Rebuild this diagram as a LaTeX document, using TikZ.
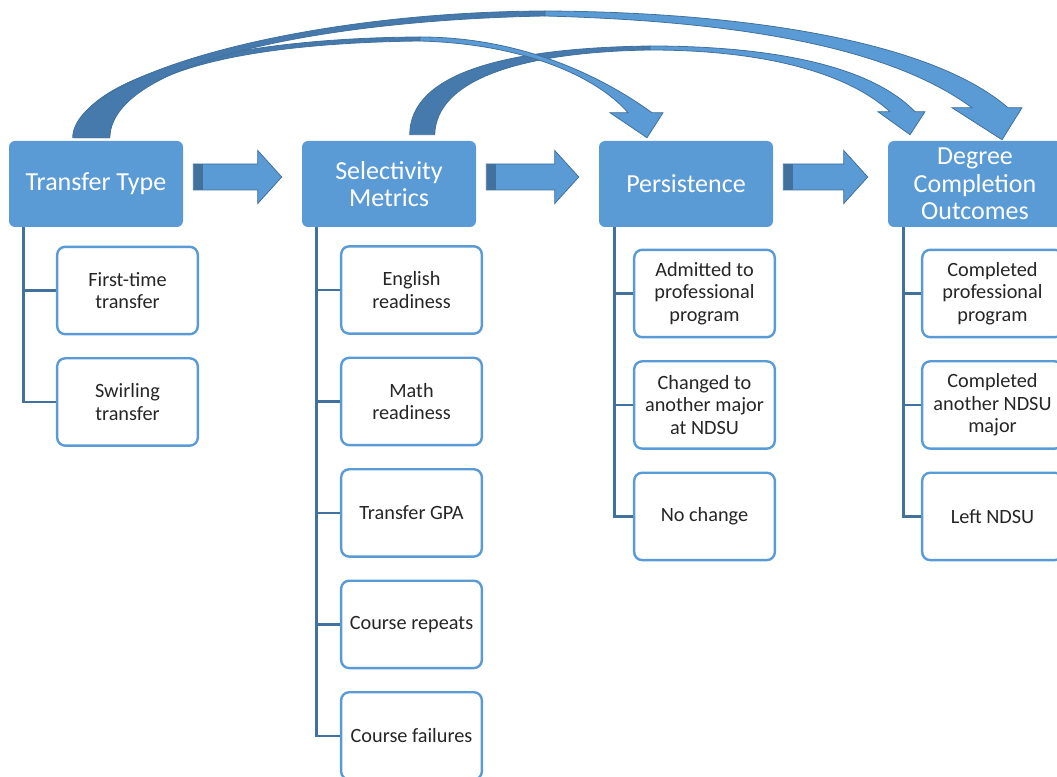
\documentclass[tikz,border=0pt]{standalone}
\usepackage{fontspec}
\setmainfont{Carlito}
\usepackage{tikz}
\usetikzlibrary{positioning,calc}
\definecolor{headblue}{RGB}{91,155,213}
\definecolor{linedark}{RGB}{65,113,156}
\definecolor{arcdark}{RGB}{70,122,173}
\tikzstyle{head}=[rectangle,rounded corners=4.5pt,fill=headblue,text=white,inner sep=1pt,
minimum width=130.5pt,minimum height=64.5pt,align=center,font=\fontsize{19.5}{20.6}\selectfont]
\tikzstyle{leaf}=[rectangle,rounded corners=6pt,draw=headblue,line width=1.8pt,fill=white,inner sep=2pt,
minimum width=105.5pt,minimum height=65.5pt,align=center,text=black!85,font=\fontsize{15.2}{16.9}\selectfont]
\tikzstyle{tie}=[draw=linedark,line width=1.9pt]
\tikzstyle{flow}=[fill=headblue,draw=linedark,line width=0.6pt]
\tikzstyle{flowback}=[fill=arcdark,draw=linedark,line width=0.6pt]
% block arrow from one head to the next
\newcommand{\flowarrow}[2]{%
  \coordinate (fs) at ($(#1.east)+(10,7)$);
  \coordinate (fe) at ($(#2.west)+(-20,7)$);
  \draw[flow] ($(fs)+(0,13)$) -- ($(fe)+(-24,13)$) -- ($(fe)+(-24,26.5)$) -- (fe)
    -- ($(fe)+(-24,-26.5)$) -- ($(fe)+(-24,-13)$) -- ($(fs)+(0,-13)$) -- cycle;
  \fill[linedark] ($(fs)+(0.4,12.6)$) rectangle ($(fs)+(10,-12.6)$);
}
\begin{document}
\begin{tikzpicture}[x=0.75pt,y=0.75pt,node distance=16.3pt]
            \clip (0,0) rectangle (1057,776);

            % HEADS

            \node[head] (tt) at (96,592) {Transfer Type};
            \node[head] (sm) at (389,592) {Selectivity\\Metrics};
            \node[head] (pe) at (686,592) {Persistence};
            \node[head] (dc) at (975,592) {Degree\\Completion\\Outcomes};

            \flowarrow{tt}{sm}
            \flowarrow{sm}{pe}
            \flowarrow{pe}{dc}

            % TRANSFER TYPE PART

            \node[leaf] (tt1) at (127.5,485.5) {First-time\\transfer};
            \node[leaf,below=of tt1] (tt2) {Swirling\\transfer};

            \draw[tie] ($(tt.south west)+(15,0)$) |- (tt1.west);
            \draw[tie] ($(tt.south west)+(15,0)$) |- (tt2.west);

            % SELECTIVITY PART

            \node[leaf] (sm1) at (411.5,486) {English\\readiness};
            \node[leaf,below=of sm1] (sm2) {Math\\readiness};
            \node[leaf,below=of sm2] (sm3) {Transfer GPA};
            \node[leaf,below=of sm3] (sm4) {Course repeats};
            \node[leaf,below=of sm4] (sm5) {Course failures};

            \draw[tie] ($(sm.south west)+(15,0)$) |- (sm1.west);
            \draw[tie] ($(sm.south west)+(15,0)$) |- (sm2.west);
            \draw[tie] ($(sm.south west)+(15,0)$) |- (sm3.west);
            \draw[tie] ($(sm.south west)+(15,0)$) |- (sm4.west);
            \draw[tie] ($(sm.south west)+(15,0)$) |- (sm5.west);

            % PERSISTENCE PART

            \node[leaf] (pe1) at (704.5,482.5) {Admitted to\\professional\\program};
            \node[leaf,below=of pe1] (pe2) {Changed to\\another major\\at NDSU};
            \node[leaf,below=of pe2] (pe3) {No change};

            \draw[tie] ($(pe.south west)+(15.5,0)$) |- (pe1.west);
            \draw[tie] ($(pe.south west)+(15.5,0)$) |- (pe2.west);
            \draw[tie] ($(pe.south west)+(15.5,0)$) |- (pe3.west);

            % DEGREE COMPLETION PART

            \node[leaf] (dc1) at (992.5,482.5) {Completed\\professional\\program};
            \node[leaf,below=of dc1] (dc2) {Completed\\another NDSU\\major};
            \node[leaf,below=of dc2] (dc3) {Left NDSU};

            \draw[tie] ($(dc.south west)+(16,0)$) |- (dc1.west);
            \draw[tie] ($(dc.south west)+(16,0)$) |- (dc2.west);
            \draw[tie] ($(dc.south west)+(16,0)$) |- (dc3.west);

            % Curved arrows over the heads

            \coordinate (ttA) at ($(tt.north west)+(64,3)$);
            \coordinate (ttC) at ($(tt.north west)+(66,3)$);
            \coordinate (ttB) at ($(tt.north west)+(101,3)$);
            \coordinate (smA) at ($(sm.north west)+(108,6)$);
            \coordinate (smB) at ($(sm.north west)+(133,6)$);
            \coordinate (tipA) at ($(pe.north)+(-39,3)$);
            \coordinate (tipB) at ($(dc.north)+(27,1)$);
            \coordinate (tipC) at ($(dc.north)+(-65,6)$);

            % selectivity -> degree
            \draw[flowback] (smA) .. controls (410,701) and (500,728) .. (650,730) -- (650,726)
                .. controls (520,724) and (436,696) .. (smB) -- cycle;
            \draw[flow] (650,730) .. controls (770,730) and (870,711) .. ($(tipC)+(5,23)$)
                -- ($(tipC)+(15,23)$) -- (tipC) -- ($(tipC)+(-32,23)$) -- ($(tipC)+(-20,23)$)
                .. controls (850,701) and (770,726) .. (650,726) -- cycle;

            % transfer -> persistence
            \draw[flowback] (ttC) .. controls (77,696) and (220,738) .. (420,739) -- (420,735)
                .. controls (250,733) and (110,706) .. (ttB) -- cycle;
            \draw[flow] (420,739) .. controls (520,739) and (600,701) .. ($(tipA)+(5,25)$)
                -- ($(tipA)+(16,25)$) -- (tipA) -- ($(tipA)+(-37,25)$) -- ($(tipA)+(-19,25)$)
                .. controls (600,696) and (530,732) .. (420,735) -- cycle;

            % transfer -> degree
            \draw[flowback] (ttA) .. controls (73,701) and (300,764) .. (545,765) -- (545,760)
                .. controls (330,756) and (112,716) .. (ttB) -- cycle;
            \draw[flow] (545,765) .. controls (740,764) and (930,736) .. ($(tipB)+(6,32)$)
                -- ($(tipB)+(20,32)$) -- (tipB) -- ($(tipB)+(-50,32)$) -- ($(tipB)+(-30,32)$)
                .. controls (900,721) and (770,754) .. (545,760) -- cycle;

\end{tikzpicture}
\end{document}
